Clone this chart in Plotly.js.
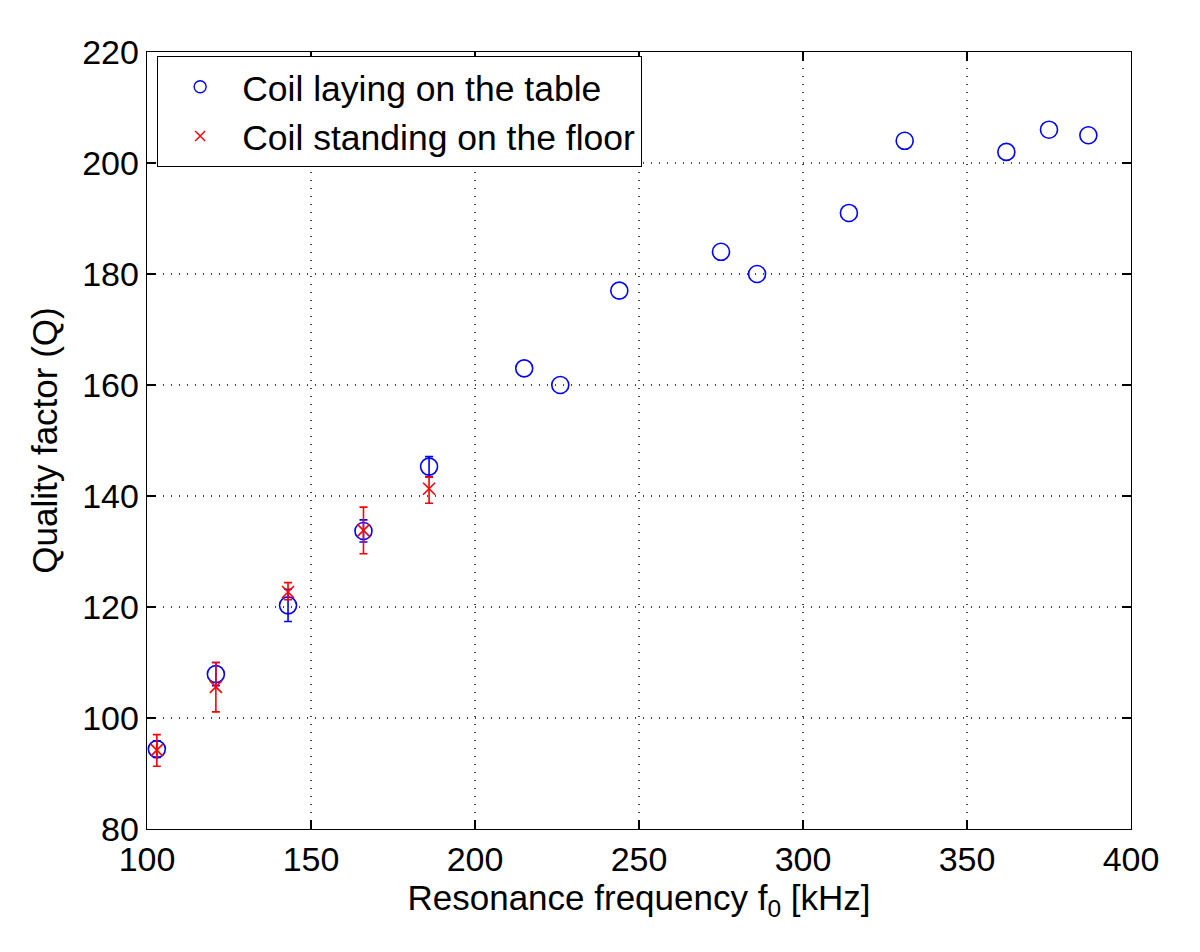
<!DOCTYPE html>
<html>
<head>
<meta charset="utf-8">
<script src="https://cdn.plot.ly/plotly-3.0.1.min.js"></script>
<style>html,body{margin:0;padding:0;background:#fff;}#chart{width:1200px;height:952px;}</style>
</head>
<body>
<div id="chart"></div>
<script>
// Coil laying on the table (first five points were measured with error bars)
var tableFreq = [103, 121, 143, 166, 186, 215, 226, 244, 275, 286, 314, 331, 362, 375, 387];
var tableQ    = [94.4, 107.9, 120.3, 133.7, 145.3, 163, 160, 177, 184, 180, 191, 204, 202, 206, 205];
var tableErr  = [1.5, 2.1, 2.9, 2.0, 1.8];
// Coil standing on the floor
var floorFreq = [103, 121, 143, 166, 186];
var floorQ    = [94.2, 105.6, 122.7, 133.8, 141.3];
var floorErrPlus  = [2.8, 4.4, 1.7, 4.2, 2.1];
var floorErrMinus = [2.9, 4.5, 1.4, 4.2, 2.6];

var labels = ['Coil laying on the table', 'Coil standing on the floor'];
var blue = '#0000ff', red = '#ff0000';
var nErr = tableErr.length;

var blueMarker = {symbol: 'circle-open', size: 17, color: blue, line: {width: 1.6, color: blue}};

var traces = [
  {
    x: tableFreq.slice(0, nErr), y: tableQ.slice(0, nErr), type: 'scatter', mode: 'markers', showlegend: false,
    marker: blueMarker,
    error_y: {type: 'data', array: tableErr, visible: true, color: blue, thickness: 1.6, width: 4}
  },
  {
    x: tableFreq.slice(nErr), y: tableQ.slice(nErr), type: 'scatter', mode: 'markers', showlegend: false,
    marker: blueMarker
  },
  {
    x: floorFreq, y: floorQ, type: 'scatter', mode: 'markers', showlegend: false,
    marker: {symbol: 'x-thin-open', size: 12, color: red, line: {width: 1.6, color: red}},
    error_y: {type: 'data', array: floorErrPlus, arrayminus: floorErrMinus, visible: true, color: red, thickness: 1.6, width: 4}
  },
  {
    x: [null], y: [null], type: 'scatter', mode: 'markers', name: labels[0],
    marker: {symbol: 'circle-open', size: 12, color: blue, line: {width: 1.4, color: blue}}
  },
  {
    x: [null], y: [null], type: 'scatter', mode: 'markers', name: labels[1],
    marker: {symbol: 'x-thin-open', size: 10, color: red, line: {width: 1.4, color: red}}
  }
];

var fontFam = 'Liberation Sans, Arial, Helvetica, sans-serif';
var axisCommon = {
  showline: true, linecolor: '#000', linewidth: 1.3, mirror: 'ticks',
  ticks: 'inside', ticklen: 9, tickwidth: 1.3, tickcolor: '#000',
  showgrid: true, gridcolor: '#444', griddash: '1px,7px', gridwidth: 1.2,
  zeroline: false, tickfont: {family: fontFam, size: 34, color: '#000'}
};

var layout = {
  width: 1200, height: 952,
  paper_bgcolor: '#fff', plot_bgcolor: '#fff',
  margin: {l: 147, r: 69, t: 52, b: 123},
  font: {family: fontFam, color: '#000'},
  xaxis: Object.assign({}, axisCommon, {
    range: [100, 400], dtick: 50, tick0: 100, autorange: false,
    title: {text: 'Resonance frequency f<sub>0</sub> [kHz]', font: {family: fontFam, size: 35, color: '#000'}, standoff: 0}
  }),
  yaxis: Object.assign({}, axisCommon, {
    range: [80, 220], dtick: 20, tick0: 80, autorange: false,
    title: {text: 'Quality factor (Q)', font: {family: fontFam, size: 35, color: '#000'}, standoff: 14}
  }),
  legend: {
    x: 0.01, y: 0.995, xanchor: 'left', yanchor: 'top',
    bgcolor: '#fff', bordercolor: '#000', borderwidth: 1.3,
    font: {family: fontFam, size: 35.5, color: '#000'},
    itemwidth: 74, tracegroupgap: 0
  },
  showlegend: true
};

Plotly.newPlot('chart', traces, layout, {displayModeBar: false, staticPlot: true});
</script>
</body>
</html>
